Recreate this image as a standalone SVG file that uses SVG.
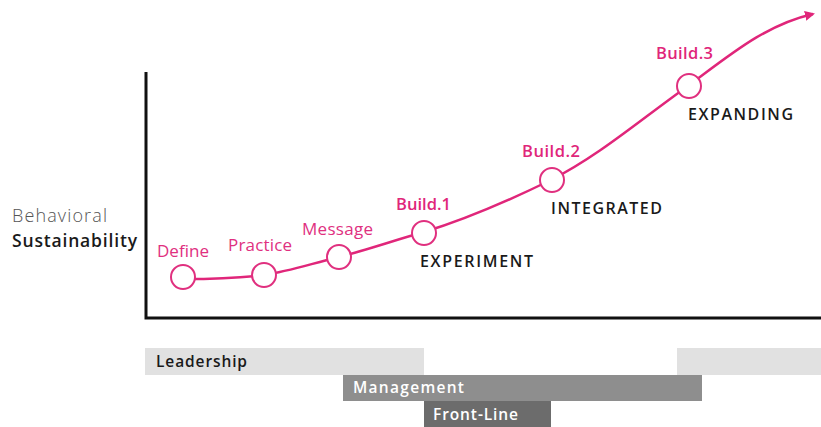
<svg xmlns="http://www.w3.org/2000/svg" width="821" height="427" viewBox="0 0 821 427">
<style>
text{font-family:"Open Sans",Lato,sans-serif}
.pk{font-size:17px;fill:#e0307f}
.pkb{font-size:16.5px;font-weight:600;fill:#e0267a}
.st{font-size:16px;font-weight:600;fill:#1a1a1a}
.bar{font-size:15.5px;font-weight:600}
.dot{fill:#fff;stroke:#e0307f;stroke-width:2}
</style>
<defs>
<marker id="arr" markerWidth="10" markerHeight="10" refX="8" refY="5" orient="auto" markerUnits="userSpaceOnUse">
<path d="M0,0 L10,5 L0,10 Z" fill="#e0267a"/>
</marker>
</defs>
<g id="axes" stroke="#111" stroke-width="3" fill="none">
<path d="M146,72 L146,318 L821,318"/>
</g>
<g id="ylabel">
<text x="12" y="222" font-size="18" font-weight="300" fill="#555" textLength="95">Behavioral</text>
<text x="12" y="247" font-size="17.5" font-weight="600" fill="#1a1a1a" textLength="125">Sustainability</text>
</g>
<g id="connectors">
<path d="M183,279 C220,279 240,278 264,275 C290,271 310,264 339,257 C370,249 395,240 424,232 C470,218 510,200 551,180 C600,155 640,120 688,86 C730,55 765,25 813,14" fill="none" stroke="#e0267a" stroke-width="2.5" marker-end="url(#arr)"/>
</g>
<g id="define"><circle class="dot" cx="183" cy="277" r="12"/><text class="pk" x="157" y="257" textLength="52">Define</text></g>
<g id="practice"><circle class="dot" cx="264" cy="275" r="12"/><text class="pk" x="228" y="251" textLength="64">Practice</text></g>
<g id="message"><circle class="dot" cx="339" cy="257" r="12"/><text class="pk" x="302" y="235" textLength="71">Message</text></g>
<g id="build1"><circle class="dot" cx="424" cy="233" r="12"/><text class="pkb" x="396" y="210" textLength="55">Build.1</text><text class="st" x="420" y="267" textLength="113">EXPERIMENT</text></g>
<g id="build2"><circle class="dot" cx="552" cy="180" r="12"/><text class="pkb" x="522" y="157" textLength="58">Build.2</text><text class="st" x="551" y="214" textLength="111">INTEGRATED</text></g>
<g id="build3"><circle class="dot" cx="689" cy="86" r="12"/><text class="pkb" x="656" y="59" textLength="57">Build.3</text><text class="st" x="688" y="120" textLength="105">EXPANDING</text></g>
<g id="leadership">
<rect x="145" y="348" width="279" height="27" fill="#e1e1e1"/>
<rect x="677" y="348" width="144" height="27" fill="#e1e1e1"/>
<text class="bar" x="156" y="367" fill="#1a1a1a" textLength="91">Leadership</text>
</g>
<g id="management">
<rect x="343" y="375" width="359" height="26" fill="#8e8e8e"/>
<text class="bar" x="353" y="393" fill="#fff" textLength="111">Management</text>
</g>
<g id="frontline">
<rect x="424" y="401" width="127" height="26" fill="#6c6c6c"/>
<text class="bar" x="433" y="420" fill="#fff" textLength="85">Front-Line</text>
</g>
</svg>
